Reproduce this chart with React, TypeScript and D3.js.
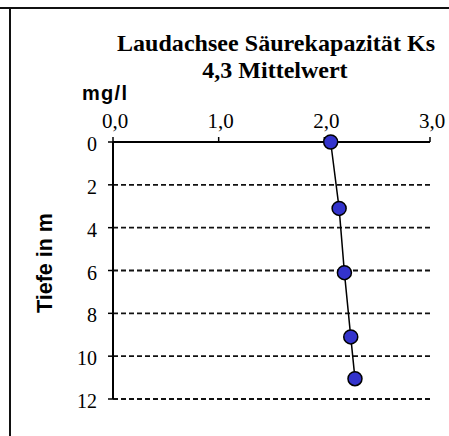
import React from "react";
import * as d3 from "d3";

const titleLines = ["Laudachsee Säurekapazität Ks", "4,3 Mittelwert"];
const xTicks = [0, 1, 2, 3];
const yTicks = [0, 2, 4, 6, 8, 10, 12];
const depths = [0, 3.1, 6.1, 9.1, 11.05];
const values = [2.06, 2.14, 2.19, 2.25, 2.29];

const W = 449;
const H = 436;

export default function App() {
  const x = d3.scaleLinear().domain([0, 3]).range([113, 430]);
  const y = d3.scaleLinear().domain([0, 12]).range([142, 399]);
  const pts = depths.map((d, i) => [values[i], d] as [number, number]);
  const line = d3
    .line<[number, number]>()
    .x((p) => x(p[0]))
    .y((p) => y(p[1]));
  const fmt = (v: number) => v.toFixed(1).replace(".", ",");
  const serif = "Liberation Serif, Times New Roman, serif";
  const sans = "Liberation Sans, Arial, sans-serif";

  return (
    <svg
      width={W}
      height={H}
      style={{ position: "absolute", left: 0, top: 0, background: "#fff" }}
    >
      <rect x={0} y={0} width={W} height={H} fill="#fff" />
      {/* frame */}
      <line x1={0} x2={W} y1={8} y2={8} stroke="#111" strokeWidth={2} />
      <line x1={10} x2={10} y1={8} y2={H} stroke="#111" strokeWidth={2} />

      {/* title */}
      <text
        x={276}
        y={51}
        textAnchor="middle"
        style={{ fontFamily: serif, fontWeight: "bold", fontSize: "24px" }}
        textLength={318}
        lengthAdjust="spacing"
      >
        {titleLines[0]}
      </text>
      <text
        x={275}
        y={78}
        textAnchor="middle"
        style={{ fontFamily: serif, fontWeight: "bold", fontSize: "24px" }}
      >
        {titleLines[1]}
      </text>

      {/* axis titles */}
      <text
        x={82}
        y={100}
        style={{ fontFamily: sans, fontWeight: "bold", fontSize: "20px" }}
        textLength={45}
        lengthAdjust="spacing"
      >
        mg/l
      </text>
      <text
        transform="translate(52,263) rotate(-90)"
        textAnchor="middle"
        style={{ fontFamily: sans, fontWeight: "bold", fontSize: "22px" }}
        textLength={100}
        lengthAdjust="spacingAndGlyphs"
      >
        Tiefe in m
      </text>

      {/* gridlines */}
      {yTicks
        .filter((t) => t !== 0)
        .map((t) => (
          <line
            key={"g" + t}
            x1={x(0)}
            x2={x(3)}
            y1={y(t)}
            y2={y(t)}
            stroke="#111"
            strokeWidth={1.8}
            strokeDasharray="5,3"
          />
        ))}

      {/* x axis (top) */}
      <line x1={x(0)} x2={x(3)} y1={y(0)} y2={y(0)} stroke="#000" strokeWidth={2} />
      {xTicks.map((t) => (
        <g key={"x" + t}>
          <line x1={x(t)} x2={x(t)} y1={y(0)} y2={y(0) - 5} stroke="#000" strokeWidth={1.5} />
          <text
            x={x(t) + 2}
            y={128}
            textAnchor="middle"
            style={{ fontFamily: serif, fontSize: "21px" }}
          >
            {fmt(t)}
          </text>
        </g>
      ))}

      {/* y axis */}
      <line x1={x(0)} x2={x(0)} y1={y(0)} y2={y(12)} stroke="#000" strokeWidth={2} />
      {yTicks.map((t) => (
        <g key={"y" + t}>
          <line x1={x(0) - 5} x2={x(0)} y1={y(t)} y2={y(t)} stroke="#000" strokeWidth={1.5} />
          <text
            x={97}
            y={y(t) + 9}
            textAnchor="end"
            style={{ fontFamily: serif, fontSize: "20px" }}
          >
            {t}
          </text>
        </g>
      ))}

      {/* series */}
      <path d={line(pts) ?? ""} fill="none" stroke="#000" strokeWidth={1.5} />
      {pts.map((p, i) => (
        <circle
          key={"p" + i}
          cx={x(p[0])}
          cy={y(p[1])}
          r={7}
          fill="#3333cc"
          stroke="#000"
          strokeWidth={1.5}
        />
      ))}
    </svg>
  );
}
